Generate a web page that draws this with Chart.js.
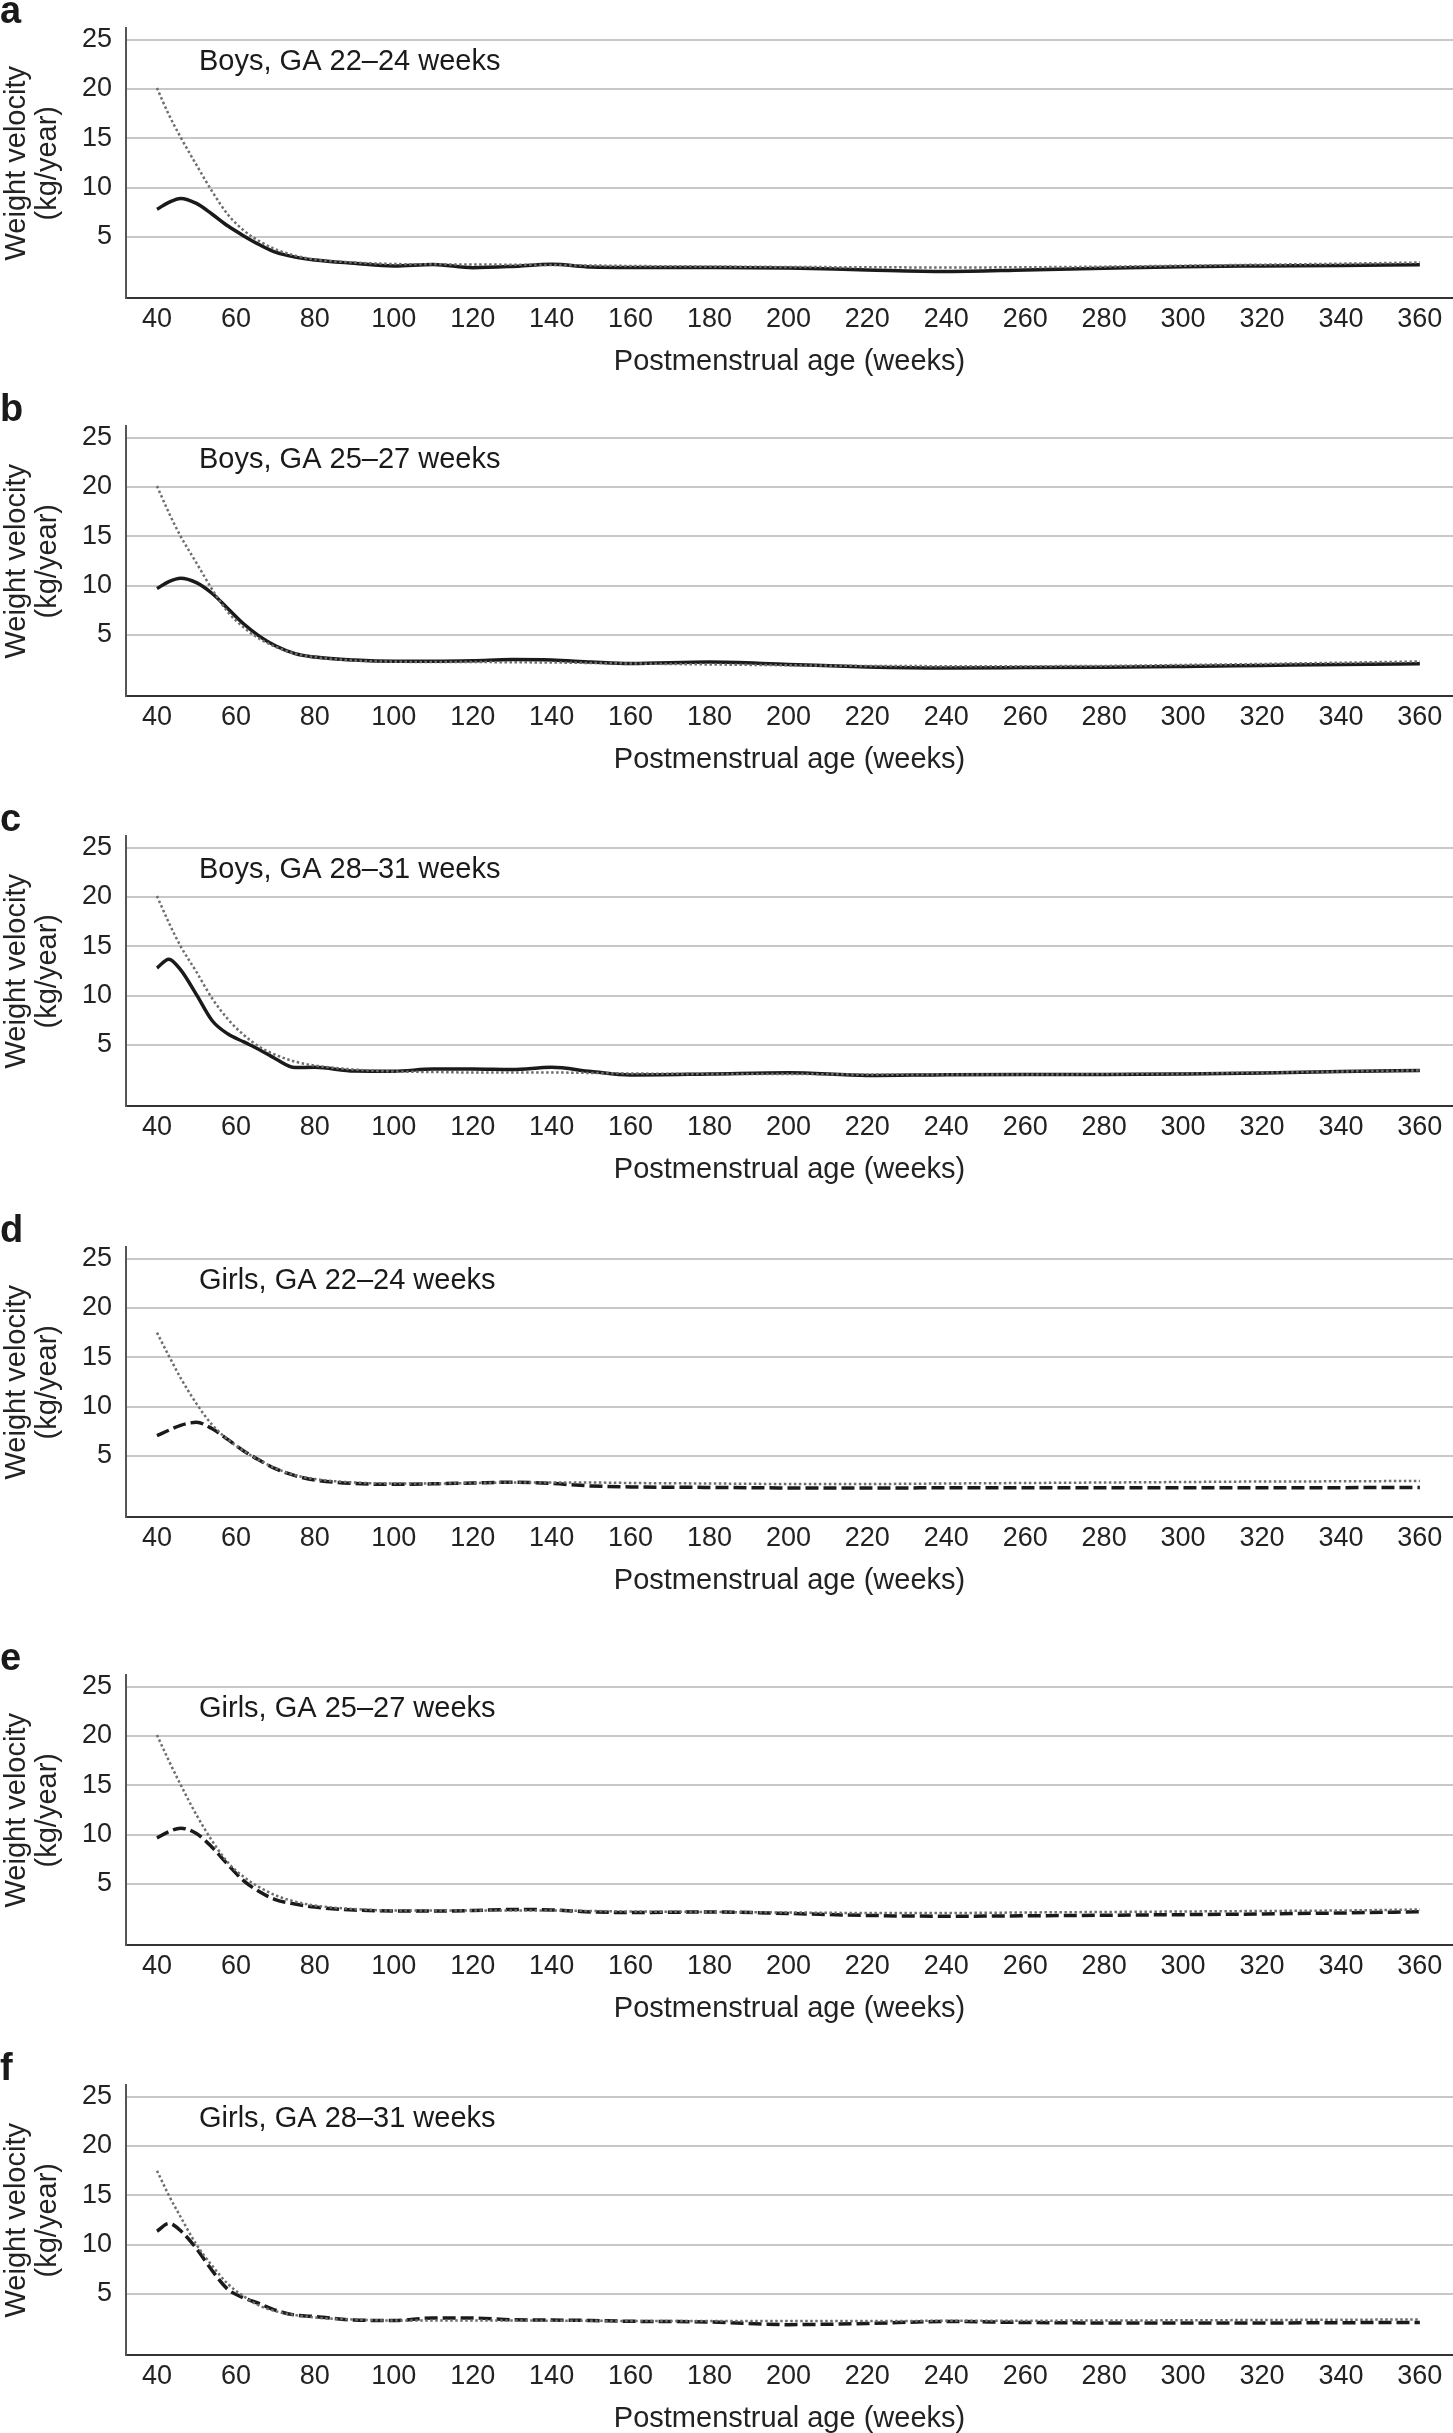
<!DOCTYPE html>
<html>
<head>
<meta charset="utf-8">
<script src="https://cdn.jsdelivr.net/npm/chart.js@4.4.1/dist/chart.umd.min.js"></script>
<style>
  html, body { margin: 0; padding: 0; background: #fff; overflow: hidden; }
  #wrap { position: relative; width: 1453px; height: 2433px; }
  canvas { position: absolute; left: 0; }
</style>
</head>
<body>
<div id="wrap"></div>
<script>
// postmenstrual age (weeks) at which the curves were read
var weeks = [40, 43, 46, 50, 54, 58, 62, 66, 70, 75, 80, 90, 100, 110, 120, 130, 140, 150, 160, 180, 200, 220, 240, 260, 280, 300, 320, 340, 360];

var xTicks = [40, 60, 80, 100, 120, 140, 160, 180, 200, 220, 240, 260, 280, 300, 320, 340, 360];
var yTicks = [5, 10, 15, 20, 25];

// weight velocity (kg/year), observed curves
var boys2224 = [7.8, 8.5, 8.9, 8.4, 7.3, 6.1, 5.1, 4.2, 3.45, 2.95, 2.65, 2.32, 2.05, 2.2, 1.88, 2.0, 2.22, 1.95, 1.9, 1.9, 1.85, 1.65, 1.5, 1.65, 1.82, 1.98, 2.05, 2.1, 2.17];
var boys2527 = [9.7, 10.4, 10.75, 10.3, 9.2, 7.65, 6.1, 4.85, 3.9, 3.1, 2.75, 2.45, 2.33, 2.33, 2.38, 2.5, 2.45, 2.25, 2.1, 2.25, 2.0, 1.75, 1.65, 1.68, 1.72, 1.8, 1.9, 2.0, 2.06];
var boys2831 = [12.8, 13.7, 12.6, 10.1, 7.45, 6.1, 5.3, 4.5, 3.6, 2.7, 2.72, 2.35, 2.33, 2.55, 2.55, 2.5, 2.73, 2.3, 1.95, 2.05, 2.18, 1.9, 1.98, 2.0, 2.0, 2.05, 2.15, 2.3, 2.4];
var girls2224 = [7.06, 7.6, 8.1, 8.4, 7.75, 6.65, 5.5, 4.55, 3.7, 3.0, 2.55, 2.2, 2.12, 2.17, 2.25, 2.33, 2.2, 1.95, 1.85, 1.8, 1.75, 1.75, 1.76, 1.77, 1.77, 1.77, 1.78, 1.78, 1.8];
var girls2527 = [9.65, 10.3, 10.65, 10.1, 8.7, 6.95, 5.3, 4.2, 3.4, 2.95, 2.65, 2.35, 2.25, 2.24, 2.3, 2.4, 2.36, 2.15, 2.1, 2.15, 2.0, 1.8, 1.72, 1.76, 1.82, 1.88, 1.95, 2.05, 2.17];
var girls2831 = [11.36, 12.14, 11.4, 9.6, 7.35, 5.45, 4.6, 4.0, 3.35, 2.85, 2.7, 2.35, 2.3, 2.55, 2.55, 2.38, 2.35, 2.3, 2.22, 2.15, 1.88, 2.0, 2.2, 2.1, 2.05, 2.05, 2.05, 2.08, 2.1];

// reference curves (grey dotted)
var refBoys2224 = [20.1, 17.4, 15.1, 12.3, 9.6, 7.25, 5.65, 4.55, 3.75, 3.1, 2.7, 2.4, 2.25, 2.22, 2.2, 2.18, 2.15, 2.1, 2.05, 2.0, 1.95, 1.92, 1.9, 1.92, 1.98, 2.08, 2.18, 2.28, 2.4];
var refBoys2527 = [20.1, 17.4, 15.0, 12.3, 9.6, 7.3, 5.75, 4.6, 3.8, 3.1, 2.75, 2.4, 2.28, 2.25, 2.25, 2.22, 2.2, 2.15, 2.1, 2.0, 1.92, 1.85, 1.83, 1.83, 1.85, 1.95, 2.05, 2.18, 2.3];
var refBoys2831 = [20.1, 17.4, 15.0, 12.4, 9.7, 7.6, 6.0, 4.8, 4.0, 3.3, 2.9, 2.5, 2.3, 2.25, 2.2, 2.2, 2.2, 2.15, 2.1, 2.05, 2.05, 2.0, 2.0, 2.0, 2.02, 2.08, 2.18, 2.3, 2.42];
var refGirls2224 = [17.5, 15.15, 12.9, 10.3, 8.15, 6.65, 5.5, 4.55, 3.75, 3.05, 2.65, 2.3, 2.2, 2.2, 2.25, 2.3, 2.3, 2.3, 2.25, 2.2, 2.15, 2.15, 2.2, 2.25, 2.3, 2.35, 2.4, 2.42, 2.46];
var refGirls2527 = [20.1, 17.5, 15.05, 12.0, 9.35, 7.15, 5.7, 4.65, 3.85, 3.2, 2.8, 2.45, 2.3, 2.3, 2.3, 2.3, 2.3, 2.25, 2.2, 2.15, 2.1, 2.05, 2.05, 2.1, 2.15, 2.2, 2.25, 2.3, 2.4];
var refGirls2831 = [17.5, 15.0, 12.8, 10.0, 7.85, 6.0, 4.75, 3.8, 3.25, 2.85, 2.6, 2.4, 2.3, 2.3, 2.3, 2.3, 2.28, 2.27, 2.25, 2.25, 2.25, 2.25, 2.27, 2.28, 2.3, 2.32, 2.35, 2.38, 2.4];

var panelLetters = ["a", "b", "c", "d", "e", "f"];
var panelLabels = ["Boys, GA 22\u201324 weeks", "Boys, GA 25\u201327 weeks", "Boys, GA 28\u201331 weeks",
                   "Girls, GA 22\u201324 weeks", "Girls, GA 25\u201327 weeks", "Girls, GA 28\u201331 weeks"];
var observed = [boys2224, boys2527, boys2831, girls2224, girls2527, girls2831];
var reference = [refBoys2224, refBoys2527, refBoys2831, refGirls2224, refGirls2527, refGirls2831];

var panelTops = [3, 401, 811, 1222, 1650, 2060];
var FONT = "'Liberation Sans', Arial, Helvetica, sans-serif";
var TOPM = 12;           // extra room above each panel for the letter
var CH = 380 + TOPM;

function toPoints(vals) {
    return weeks.map(function (w, i) { return { x: w, y: vals[i] }; });
}

// panel letter and group label
var panelText = {
    id: 'panelText',
    afterDraw: function (chart, args, opts) {
        var ctx = chart.ctx;
        ctx.save();
        ctx.fillStyle = '#1a1a1a';
        ctx.textBaseline = 'alphabetic';
        ctx.textAlign = 'left';
        ctx.font = 'bold 38px ' + FONT;
        ctx.fillText(opts.letter, 0, TOPM + 20);
        ctx.font = '29px ' + FONT;
        ctx.fillText(opts.label, 199, TOPM + 67);
        ctx.restore();
    }
};

function makePanel(i) {
    var cv = document.createElement('canvas');
    cv.width = 1453;
    cv.height = CH;
    cv.style.top = (panelTops[i] - TOPM) + 'px';
    document.getElementById('wrap').appendChild(cv);

    var girls = i >= 3;

    new Chart(cv.getContext('2d'), {
        type: 'line',
        data: {
            datasets: [{
                data: toPoints(observed[i]),
                borderColor: '#1a1a1a',
                borderWidth: 3.5,
                borderDash: girls ? [13, 5] : [],
                pointRadius: 0,
                cubicInterpolationMode: 'monotone',
                fill: false,
                order: 2
            }, {
                data: toPoints(reference[i]),
                borderColor: '#6e6e6e',
                borderWidth: 2.5,
                borderDash: [2.5, 2.5],
                pointRadius: 0,
                cubicInterpolationMode: 'monotone',
                fill: false,
                order: 1
            }]
        },
        options: {
            responsive: false,
            animation: false,
            layout: { padding: { top: TOPM + 25.2, left: 0, right: 0, bottom: 0 } },
            plugins: {
                legend: { display: false },
                tooltip: { enabled: false },
                panelText: { letter: panelLetters[i], label: panelLabels[i] }
            },
            scales: {
                x: {
                    type: 'linear',
                    min: 32.15,
                    max: 368.4,
                    afterBuildTicks: function (scale) {
                        scale.ticks = xTicks.map(function (v) { return { value: v }; });
                    },
                    afterFit: function (scale) { scale.height = CH - TOPM - 295.3; },
                    grid: { display: false, drawTicks: false },
                    border: { display: true, color: '#333', width: 2 },
                    ticks: {
                        color: '#222',
                        padding: 5,
                        maxRotation: 0,
                        autoSkip: false,
                        font: { family: FONT, size: 27 }
                    },
                    title: {
                        display: true,
                        text: 'Postmenstrual age (weeks)',
                        color: '#222',
                        padding: { top: 0, bottom: 4 },
                        font: { family: FONT, size: 29 }
                    }
                },
                y: {
                    min: -1.23,
                    max: 26.17,
                    afterBuildTicks: function (scale) {
                        scale.ticks = yTicks.map(function (v) { return { value: v }; });
                    },
                    afterFit: function (scale) { scale.width = 126; },
                    grid: { color: '#c8c8c8', lineWidth: 2, drawTicks: false },
                    border: { display: true, color: '#555', width: 2 },
                    ticks: {
                        color: '#222',
                        padding: 14,
                        font: { family: FONT, size: 27 }
                    },
                    title: {
                        display: true,
                        text: ['Weight velocity', '(kg/year)'],
                        color: '#222',
                        padding: { top: 1.5, bottom: 0 },
                        font: { family: FONT, size: 29, lineHeight: 1.07 }
                    }
                }
            }
        },
        plugins: [panelText]
    });
}

for (var i = 0; i < 6; i++) {
    makePanel(i);
}
</script>
</body>
</html>
